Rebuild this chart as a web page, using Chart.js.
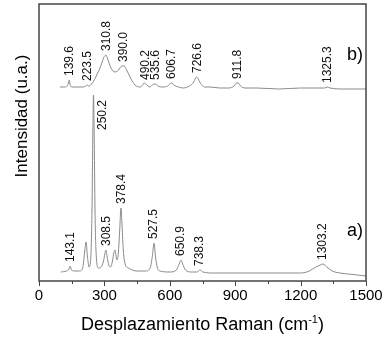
<!DOCTYPE html>
<html lang="es">
<head>
  <meta charset="UTF-8">
  <title>Espectros Raman</title>
  <script src="https://cdn.jsdelivr.net/npm/chart.js"></script>
  <style>
    html, body { margin: 0; padding: 0; background: #fff; }
    canvas { display: block; }
  </style>
</head>
<body>
  <canvas id="raman-chart" width="391" height="348"></canvas>
  <script>
    // espectro a) (cm-1, intensidad u.a.)
    const aShift = [100, 125, 137, 143, 149, 165, 185, 200, 210, 216, 222, 230, 238, 243, 247, 250, 253, 257, 262, 272,
      285, 296, 302, 307, 312, 320, 329, 337, 343, 349, 354, 358, 364, 370, 376, 381, 387, 395, 410, 450,
      490, 510, 520, 528, 534, 542, 555, 600, 630, 643, 651, 659, 672, 700, 725, 738, 752, 800, 900, 1000,
      1100, 1200, 1240, 1270, 1290, 1303, 1320, 1345, 1380, 1420, 1460, 1500];
    const aInt = [9, 10, 12, 15, 11, 10, 10, 13, 30, 39, 25, 14, 25, 70, 150, 186, 150, 70, 28, 13,
      14, 20, 27, 31, 25, 16, 14, 20, 28, 31, 24, 21, 28, 50, 73, 55, 30, 17, 13, 10,
      10, 13, 25, 38, 25, 14, 10, 9, 11, 17, 21, 17, 11, 9, 9, 11, 9, 8, 8, 8,
      8, 8, 10, 14, 16, 17, 14, 10, 8, 7, 6, 5];

    // espectro b) (desplazado hacia arriba)
    const bShift = [96, 115, 130, 136, 139, 142, 150, 180, 200, 215, 221, 228, 245, 265, 285, 298, 307, 315, 330, 349,
      365, 380, 390, 402, 420, 440, 463, 476, 482, 490, 500, 509, 520, 528, 536, 545, 570, 590, 600, 609,
      618, 640, 661, 690, 710, 722, 728, 740, 760, 784, 830, 870, 895, 906, 914, 925, 945, 1000, 1100, 1200,
      1280, 1310, 1322, 1335, 1400, 1500];
    const bInt = [194, 194, 195, 199, 201, 197, 194, 194, 194, 195, 196, 195, 198, 206, 216, 224, 226, 222, 213, 209,
      211, 215, 215, 211, 203, 196, 194, 196, 198, 197, 195, 194, 196, 197, 197, 195, 194, 195, 197, 198,
      196, 194, 193, 195, 199, 204, 203, 198, 194, 194, 193, 193, 195, 198, 198, 195, 193, 193, 192, 193,
      193, 193, 194, 193, 192, 192];

    const aPeaks = ['143.1', '250.2', '308.5', '378.4', '527.5', '650.9', '738.3', '1303.2'];
    const bPeaks = ['139.6', '223.5', '310.8', '390.0', '490.2', '535.6', '606.7', '726.6', '911.8', '1325.3'];
    const xTicks = [0, 300, 600, 900, 1200, 1500];

    const FONT = '"Liberation Sans", Arial, sans-serif';

    function peakTop(shift, ints, v) {
      let best = -Infinity;
      shift.forEach((s, i) => { if (Math.abs(s - v) <= 8 && ints[i] > best) best = ints[i]; });
      return best;
    }

    const annotations = {
      id: 'annotations',
      afterDraw(chart) {
        const { ctx, chartArea: area, scales: { x, y } } = chart;
        ctx.save();
        // marco
        ctx.strokeStyle = '#444';
        ctx.lineWidth = 1.5;
        ctx.strokeRect(area.left, area.top, area.right - area.left, area.bottom - area.top);
        // marcas del eje x
        ctx.lineWidth = 1;
        for (let v = 0; v <= 1500; v += 150) {
          const px = Math.round(x.getPixelForValue(v)) + 0.5;
          ctx.beginPath();
          ctx.moveTo(px, area.bottom);
          ctx.lineTo(px, area.bottom + (v % 300 === 0 ? 5 : 3));
          ctx.stroke();
        }
        // etiquetas de picos
        ctx.fillStyle = '#111';
        ctx.font = '12px ' + FONT;
        ctx.textAlign = 'left';
        ctx.textBaseline = 'middle';
        const drawPeaks = (list, shift, ints) => {
          list.forEach(lbl => {
            const v = parseFloat(lbl);
            let px = x.getPixelForValue(v);
            let py = y.getPixelForValue(peakTop(shift, ints, v)) - 4;
            if (lbl === '250.2') { px += 9; py += 39; }
            ctx.save();
            ctx.translate(px, py);
            ctx.rotate(-Math.PI / 2);
            ctx.fillText(lbl, 0, 0);
            ctx.restore();
          });
        };
        drawPeaks(aPeaks, aShift, aInt);
        drawPeaks(bPeaks, bShift, bInt);
        // a) b)
        ctx.font = '18px ' + FONT;
        ctx.fillStyle = '#000';
        ctx.textBaseline = 'alphabetic';
        ctx.fillText('b)', area.right - 19, area.top + 56);
        ctx.fillText('a)', area.right - 19, area.top + 232);
        // titulo eje x con superindice
        const main = 'Desplazamiento Raman (cm';
        const sup = '-1';
        const end = ')';
        ctx.font = '18px ' + FONT;
        const w1 = ctx.measureText(main).width;
        const w3 = ctx.measureText(end).width;
        ctx.font = '11px ' + FONT;
        const w2 = ctx.measureText(sup).width;
        const cx = (area.left + area.right) / 2;
        let sx = cx - (w1 + w2 + w3) / 2;
        const by = 330;
        ctx.font = '18px ' + FONT;
        ctx.fillText(main, sx, by);
        ctx.font = '11px ' + FONT;
        ctx.fillText(sup, sx + w1, by - 7);
        ctx.font = '18px ' + FONT;
        ctx.fillText(end, sx + w1 + w2, by);
        // titulo eje y
        ctx.save();
        ctx.translate(27, 116);
        ctx.rotate(-Math.PI / 2);
        ctx.textAlign = 'center';
        ctx.font = '17px ' + FONT;
        ctx.fillText('Intensidad (u.a.)', 0, 0);
        ctx.restore();
        ctx.restore();
      }
    };

    const ctx = document.getElementById('raman-chart').getContext('2d');
    new Chart(ctx, {
      type: 'line',
      data: {
        datasets: [
          { label: 'a)', data: aShift.map((s, i) => ({ x: s, y: aInt[i] })), borderColor: '#8a8a8a', borderWidth: 1, cubicInterpolationMode: 'monotone', pointRadius: 0, fill: false },
          { label: 'b)', data: bShift.map((s, i) => ({ x: s, y: bInt[i] })), borderColor: '#8a8a8a', borderWidth: 1, cubicInterpolationMode: 'monotone', pointRadius: 0, fill: false }
        ]
      },
      options: {
        responsive: false,
        animation: false,
        layout: { padding: { top: 4, right: 25, left: 0, bottom: 0 } },
        plugins: { legend: { display: false }, tooltip: { enabled: false } },
        scales: {
          x: {
            type: 'linear', min: 0, max: 1500,
            afterBuildTicks: s => { s.ticks = xTicks.map(v => ({ value: v })); },
            ticks: { color: '#000', font: { family: FONT, size: 15 }, padding: 6, maxRotation: 0, autoSkip: false, callback: v => String(v) },
            grid: { display: false, drawTicks: false },
            border: { display: false },
            afterFit: s => { s.height = 67; }
          },
          y: {
            min: 0, max: 277,
            ticks: { display: false },
            grid: { display: false, drawTicks: false },
            border: { display: false },
            afterFit: s => { s.width = 39; }
          }
        }
      },
      plugins: [annotations]
    });
  </script>
</body>
</html>
